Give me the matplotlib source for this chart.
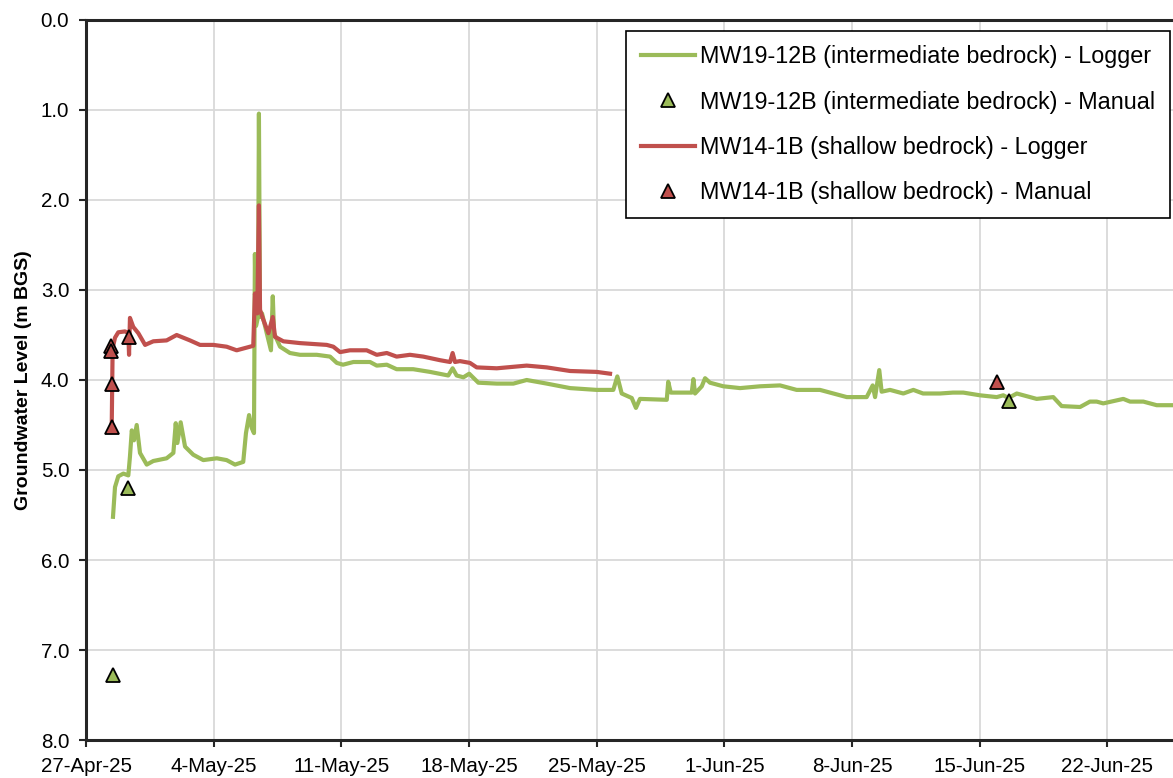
import matplotlib
matplotlib.use("Agg")
import matplotlib.pyplot as plt
import matplotlib.ticker as mticker
import matplotlib.dates as mdates
import pandas as pd

plt.rcParams['font.family'] = ['Liberation Sans', 'DejaVu Sans']

START = pd.Timestamp('2025-04-27')

# ---- MW19-12B (intermediate bedrock) logger: days since 27-Apr-25, level (m BGS)
green_days = [1.48, 1.59, 1.77, 2.05, 2.32, 2.41, 2.51, 2.63, 2.78, 2.96,
              3.33, 3.69, 4.42, 4.79, 4.92, 5.01, 5.19, 5.43, 5.88, 6.43,
              7.17, 7.71, 8.17, 8.62, 8.77, 8.94, 9.08, 9.21, 9.26, 9.32,
              9.43, 9.48, 9.54, 9.65, 9.91, 10.14, 10.24, 10.31, 10.64, 11.18,
              11.73, 12.65, 13.38, 13.75, 14.09, 14.66, 15.57, 15.94, 16.49, 17.03,
              17.94, 18.86, 19.86, 20.10, 20.32, 20.69, 21.01, 21.51, 22.52, 23.43,
              24.16, 25.26, 26.54, 28.00, 28.91, 29.13, 29.37, 29.92, 30.15, 30.37,
              31.84, 31.92, 32.06, 33.21, 33.30, 33.39, 33.76, 33.94, 34.21, 34.94,
              35.86, 36.95, 38.05, 38.96, 40.24, 41.71, 42.80, 43.13, 43.26, 43.49,
              43.62, 44.08, 44.81, 45.36, 45.89, 46.82, 47.53, 48.10, 49.01, 49.93,
              50.29, 50.57, 51.03, 52.12, 53.03, 53.49, 54.50, 55.04, 55.41, 55.77,
              56.87, 57.24, 57.97, 58.70, 59.59, 60.00]
green_level = [5.52, 5.19, 5.07, 5.04, 5.06, 4.85, 4.56, 4.67, 4.50, 4.81,
               4.94, 4.90, 4.87, 4.81, 4.48, 4.70, 4.47, 4.74, 4.83, 4.89,
               4.87, 4.89, 4.94, 4.91, 4.59, 4.39, 4.53, 4.59, 2.60, 3.40,
               3.30, 1.04, 3.30, 3.26, 3.48, 3.67, 3.07, 3.48, 3.63, 3.70,
               3.72, 3.72, 3.74, 3.81, 3.83, 3.80, 3.80, 3.84, 3.83, 3.88,
               3.88, 3.91, 3.95, 3.87, 3.95, 3.97, 3.93, 4.03, 4.04, 4.04,
               4.00, 4.04, 4.09, 4.11, 4.11, 3.96, 4.15, 4.20, 4.31, 4.21,
               4.22, 4.02, 4.14, 4.14, 3.99, 4.15, 4.07, 3.98, 4.03, 4.07,
               4.09, 4.07, 4.06, 4.11, 4.11, 4.19, 4.19, 4.06, 4.19, 3.89,
               4.13, 4.11, 4.15, 4.11, 4.15, 4.15, 4.14, 4.14, 4.17, 4.19,
               4.17, 4.20, 4.15, 4.21, 4.19, 4.29, 4.30, 4.24, 4.24, 4.26,
               4.21, 4.24, 4.24, 4.28, 4.28, 4.29]

# ---- MW19-12B manual readings
green_manual_days = [1.46, 2.32, 50.60]
green_manual_level = [7.28, 5.20, 4.23]

# ---- MW14-1B (shallow bedrock) logger
red_days = [1.41, 1.46, 1.59, 1.77, 2.14, 2.32, 2.36, 2.41, 2.59, 2.87,
            3.24, 3.69, 4.42, 4.97, 5.70, 6.25, 6.98, 7.71, 8.26, 8.81,
            9.17, 9.26, 9.39, 9.48, 9.54, 9.72, 10.00, 10.24, 10.36, 10.82,
            11.73, 13.20, 13.56, 13.93, 14.47, 15.39, 15.94, 16.49, 17.03, 17.76,
            18.49, 19.41, 19.96, 20.10, 20.23, 20.50, 21.05, 21.42, 22.52, 24.16,
            25.26, 26.54, 28.00, 28.73]
red_level = [4.52, 3.65, 3.53, 3.47, 3.46, 3.48, 3.72, 3.31, 3.41, 3.48,
             3.61, 3.57, 3.56, 3.50, 3.56, 3.61, 3.61, 3.63, 3.67, 3.64,
             3.62, 3.04, 3.26, 2.06, 3.22, 3.33, 3.48, 3.30, 3.52, 3.57,
             3.59, 3.61, 3.63, 3.69, 3.67, 3.67, 3.72, 3.70, 3.74, 3.72,
             3.74, 3.78, 3.80, 3.70, 3.80, 3.79, 3.81, 3.86, 3.87, 3.84,
             3.86, 3.90, 3.91, 3.93]

# ---- MW14-1B manual readings
red_manual_days = [1.35, 1.35, 1.44, 1.41, 2.37, 49.93]
red_manual_level = [3.62, 3.68, 4.04, 4.52, 3.52, 4.02]

labels = ["MW19-12B (intermediate bedrock) - Logger",
          "MW19-12B (intermediate bedrock) - Manual",
          "MW14-1B (shallow bedrock) - Logger",
          "MW14-1B (shallow bedrock) - Manual"]

tick_dates = pd.date_range('2025-04-27', '2025-06-22', freq='7D')
y_ticks = [0, 1, 2, 3, 4, 5, 6, 7, 8]

GREEN = '#9BBB59'
RED = '#C0504D'


def to_dates(days):
    return START + pd.to_timedelta(days, unit='D')


fig = plt.figure(figsize=(11.73, 7.78), dpi=100)
ax = fig.add_axes([86 / 1173, 38 / 778, 1094.4 / 1173, 720 / 778])

ax.plot(to_dates(green_days), green_level, color=GREEN, lw=3.0, zorder=3,
        label=labels[0], solid_joinstyle='round')
ax.plot(to_dates(green_manual_days), green_manual_level, ls='none', marker='^',
        ms=10, mfc=GREEN, mec='black', mew=1.3, zorder=5, label=labels[1])
ax.plot(to_dates(red_days), red_level, color=RED, lw=3.0, zorder=4,
        label=labels[2], solid_joinstyle='round')
ax.plot(to_dates(red_manual_days), red_manual_level, ls='none', marker='^',
        ms=10, mfc=RED, mec='black', mew=1.3, zorder=6, label=labels[3])

ax.set_xlim(pd.Timestamp('2025-04-27'), pd.Timestamp('2025-06-26'))
ax.set_ylim(8, 0)
ax.set_yticks(y_ticks)
ax.yaxis.set_major_formatter(mticker.FuncFormatter(lambda v, p: f"{v:.1f}"))
ax.set_xticks(tick_dates)


def fmt_date(x, pos):
    d = mdates.num2date(x)
    return f"{d.day}-{d.strftime('%b-%y')}"


ax.xaxis.set_major_formatter(mticker.FuncFormatter(fmt_date))

ax.grid(True, color='#D9D9D9', lw=1.3, zorder=0)
ax.set_axisbelow(True)

for side in ['left', 'bottom', 'top', 'right']:
    ax.spines[side].set_color('#262626')
    ax.spines[side].set_linewidth(2.2)

ax.tick_params(axis='both', direction='out', length=5, width=1.5,
               color='#262626', labelsize=14.8, pad=7, labelcolor='black')

ax.set_ylabel("Groundwater Level (m BGS)", fontsize=14, fontweight='bold')
ax.yaxis.set_label_coords(-0.049, 0.5)

leg = ax.legend(loc='upper right', bbox_to_anchor=(1170 / 1173, 1 - 31 / 778),
                bbox_transform=fig.transFigure, borderaxespad=0,
                fontsize=16.8, frameon=True, fancybox=False, shadow=False,
                handlelength=2.3, handletextpad=0.25, labelspacing=0.95,
                borderpad=0.62)
leg.get_frame().set_edgecolor('black')
leg.get_frame().set_linewidth(1.2)
leg.get_frame().set_alpha(1)

fig.savefig('out.png', dpi=100)
